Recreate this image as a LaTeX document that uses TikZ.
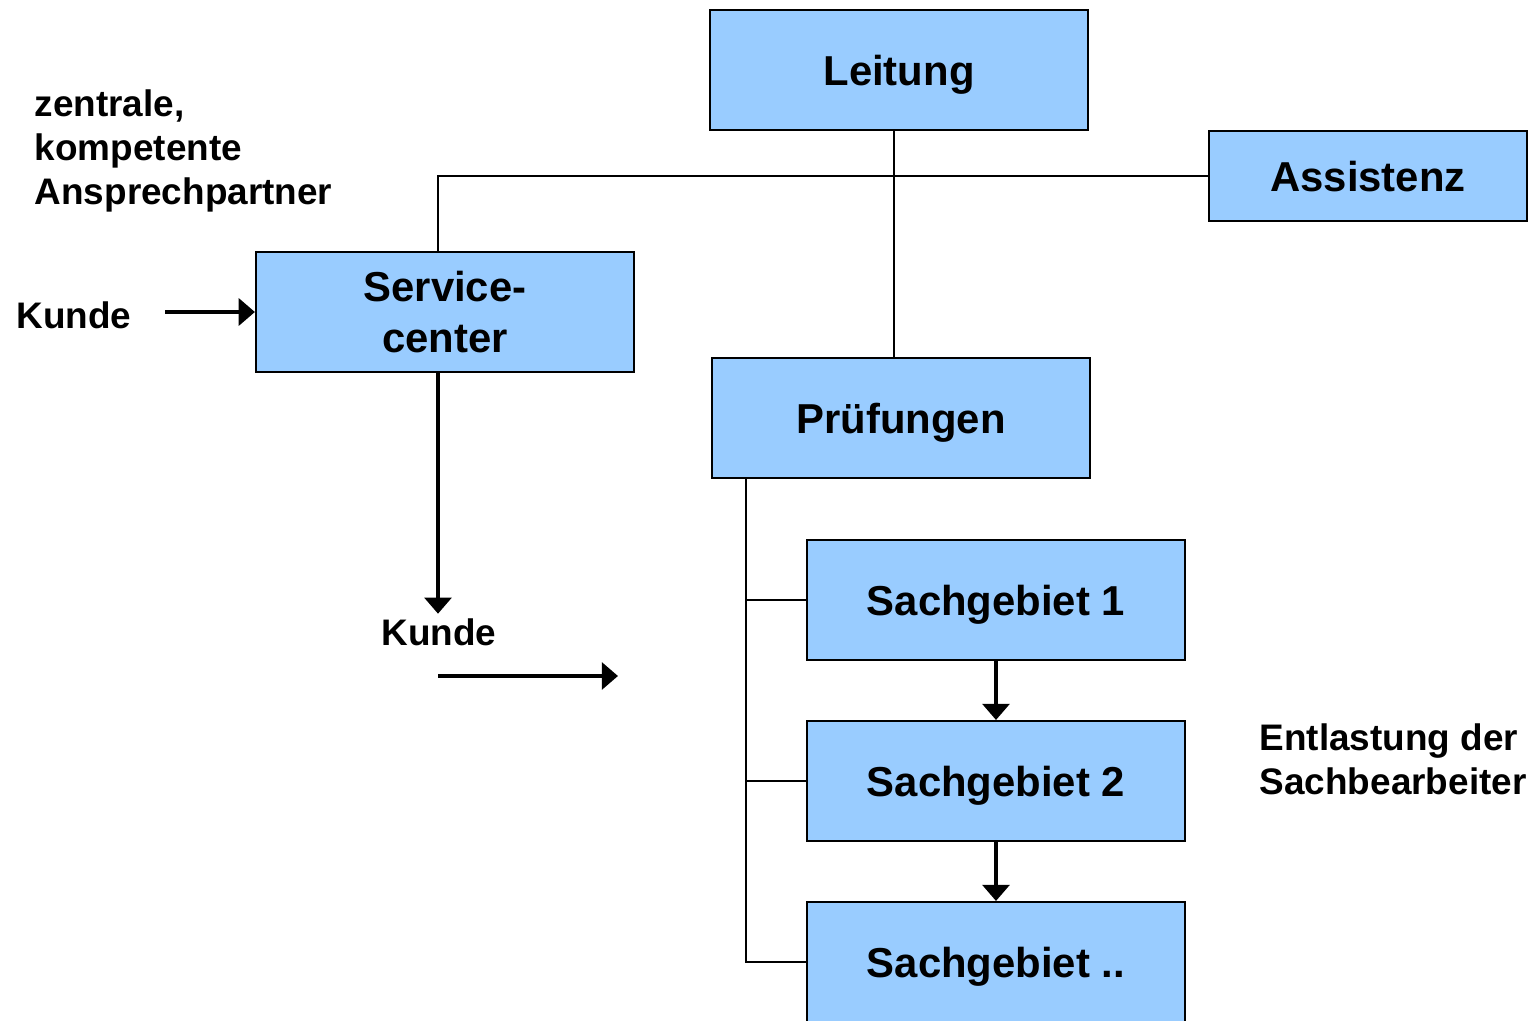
\documentclass[tikz,border=0pt]{standalone}
\usepackage{fontspec}
\setmainfont{Liberation Sans}
\usetikzlibrary{arrows.meta, positioning, calc}
\definecolor{boxblue}{RGB}{153,204,255}

\begin{document}
\begin{tikzpicture}[x=0.01cm, y=-0.01cm,
    box/.style={rectangle, draw, fill=boxblue, line width=0.55pt, minimum width=3.78cm, minimum height=1.2cm, inner sep=0pt, text depth=0pt, font=\fontsize{11.9}{14.5}\selectfont\bfseries, align=center},
    sidetext/.style={inner sep=0pt, font=\fontsize{10.5}{12.6}\selectfont\bfseries, align=left},
    link/.style={line width=0.45pt},
    arrow/.style={-{Triangle[length=4.6pt, width=7.6pt]}, line width=1.15pt}
  ]
  \useasboundingbox (0,0) rectangle (1532,1021);
  \clip (0,0) rectangle (1532,1021);

  % --- BOXES ---
  \node[box] (leitung) at (899,70) {Leitung};
  \node[box, minimum width=3.18cm, minimum height=0.9cm] (assist) at (1368,176) {Assistenz};
  \node[box, text depth=] (service) at (445,312) {Service-\\center};
  \node[box] (pruef) at (901,418) {Prüfungen};
  \node[box] (sg1) at (996,600) {Sachgebiet 1};
  \node[box] (sg2) at (996,781) {Sachgebiet 2};
  \node[box] (sg3) at (996,962) {Sachgebiet ..};

  % --- SIDE TEXTS ---
  \node[sidetext, anchor=west] (ansprech) at (34,151) {zentrale,\\kompetente\\Ansprechpartner};
  \node[sidetext] (kunde1) at (74,315) {Kunde};
  \node[sidetext] (kunde2) at (439,632) {Kunde};
  \node[sidetext, anchor=west] (entlast) at (1259,759) {Entlastung der\\Sachbearbeiter};

  % --- HELPER COORDINATES ---
  \coordinate (trunk) at (894,176);
  \coordinate (svtop) at (438,176);
  \coordinate (spine) at (746,479);
  \coordinate (kin) at (165,312);
  \coordinate (kout1) at (438,676);
  \coordinate (kout2) at (618,676);

  % --- CONNECTORS ---
  \draw[link] (leitung.south -| trunk) -- (pruef.north -| trunk);
  \draw[link] (svtop |- service.north) -- (svtop) -- (assist.west);
  \draw[link] (spine |- pruef.south) |- (sg3.west);
  \foreach \sg in {sg1, sg2}
    \draw[link] (spine |- \sg.west) -- (\sg.west);

  % --- ARROWS ---
  \draw[arrow] (kin) -- (service.west);
  \draw[arrow] (service.south -| svtop) -- ($(kunde2.north -| svtop)+(0,-4)$);
  \draw[arrow] (kout1) -- (kout2);
  \draw[arrow] (sg1.south) -- (sg2.north);
  \draw[arrow] (sg2.south) -- (sg3.north);
\end{tikzpicture}
\end{document}
